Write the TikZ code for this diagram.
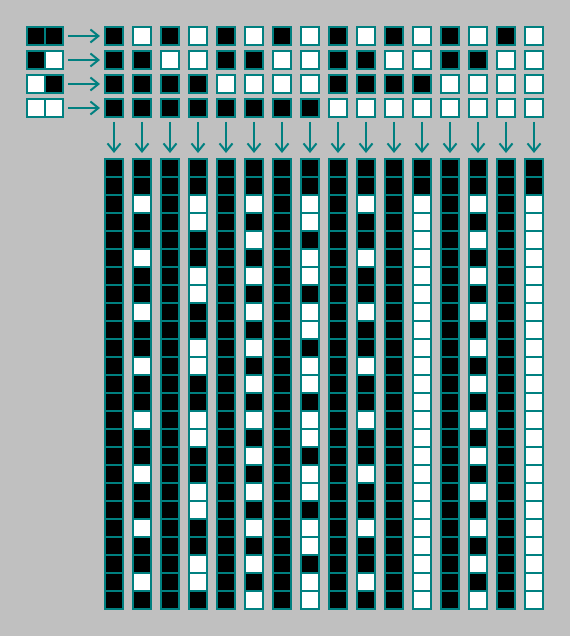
\documentclass[tikz,border=0pt]{standalone}
\usetikzlibrary{arrows.meta}
\definecolor{bggray}{HTML}{C0C0C0}
\definecolor{tealc}{HTML}{008080}
\newcount\ca \newcount\cb \newcount\cn
\tikzset{
  cellbox/.style={rectangle, draw=tealc, line width=2pt, minimum width=18pt, minimum height=18pt, inner sep=0pt, outer sep=0pt},
  conn/.style={draw=tealc, line width=2pt, -{Straight Barb[length=8pt,width=13pt]}}
}
\begin{document}
\begin{tikzpicture}[x=1pt,y=-1pt]
\fill[bggray] (0,0) rectangle (570,636);
\useasboundingbox (0,0) rectangle (570,636);
% neighbourhood pairs
\foreach \r/\lc/\rc in {0/black/black,1/black/white,2/white/black,3/white/white}{
  \node[cellbox, fill=\lc] (pL\r) at (36,{36+24*\r}) {};
  \node[cellbox, fill=\rc] (pR\r) at (54,{36+24*\r}) {};
}
% rule table
\foreach \c in {0,...,15}{
  \foreach \r in {0,...,3}{
    \pgfmathtruncatemacro\bit{mod(floor(\c/(2^\r)),2)}
    \ifnum\bit=1 \def\col{white}\else\def\col{black}\fi
    \node[cellbox, fill=\col] (t\r-\c) at ({114+28*\c},{36+24*\r}) {};
  }
}
% strips
\foreach \c in {0,...,15}{
  \global\ca=0 \global\cb=0
  \foreach \n in {0,...,24}{
    \ifnum\n<2 \global\cn=0 \else
      \pgfmathtruncatemacro\v{mod(floor(\c/(2^(2*\the\ca+\the\cb))),2)}
      \global\cn=\v\relax
    \fi
    \global\ca=\cb \global\cb=\cn
    \ifnum\cn=1 \def\col{white}\else\def\col{black}\fi
    \node[cellbox, fill=\col] (s\c-\n) at ({114+28*\c},{168+18*\n}) {};
  }
}
% connectors
\foreach \r in {0,...,3}{
  \draw[conn, shorten <=5pt, shorten >=5pt] (pR\r.east) -- (t\r-0.west);
}
\foreach \c in {0,...,15}{
  \draw[conn, shorten <=5pt, shorten >=6pt] (t3-\c.south) -- (s\c-0.north);
}
\end{tikzpicture}
\end{document}
